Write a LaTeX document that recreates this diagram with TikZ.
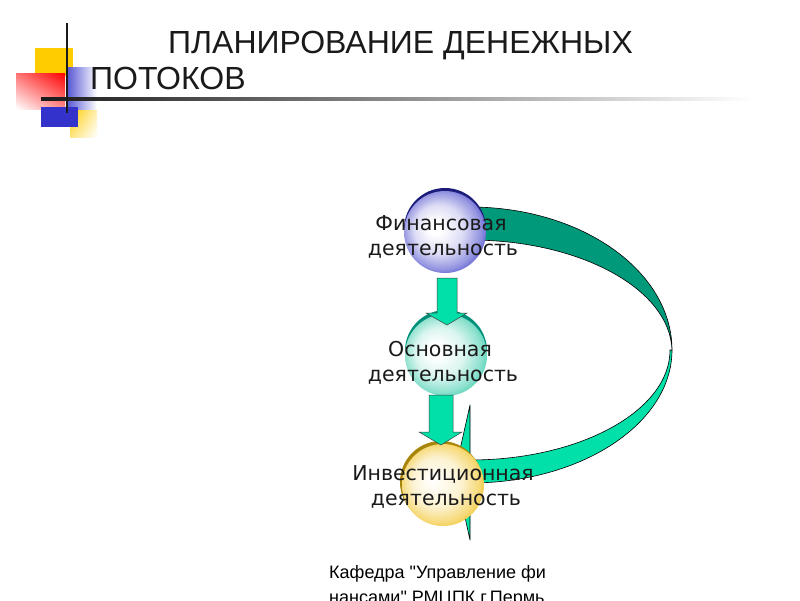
\documentclass[tikz,border=0pt]{standalone}
\usepackage{fontspec}
\usetikzlibrary{shadings}
\setmainfont{DejaVu Sans}
\newfontfamily\titlefont{Liberation Sans}
\definecolor{mint}{HTML}{00E0A8}
\definecolor{ribdark}{HTML}{00997A}
\definecolor{finblue}{HTML}{2E2EC4}
\definecolor{finedge}{HTML}{1C1C7A}
\definecolor{osnteal}{HTML}{20C4A0}
\definecolor{osnedge}{HTML}{00907A}
\definecolor{invyel}{HTML}{F0BC10}
\definecolor{invedge}{HTML}{A8860C}
\definecolor{logogold}{HTML}{FFCC00}
\definecolor{logoblue}{HTML}{3333CC}
\definecolor{ink}{HTML}{1A1A1A}
\pgfdeclareradialshading{finball}{\pgfpoint{-7.3bp}{3.2bp}}{color(0bp)=(white); color(4.5bp)=(white); color(15bp)=(finblue!17!white); color(23.5bp)=(finblue!51!white); color(29bp)=(finblue!85!white); color(32.5bp)=(finblue)}
\pgfdeclareradialshading{osnball}{\pgfpoint{-7.3bp}{3.2bp}}{color(0bp)=(white); color(4.5bp)=(white); color(15bp)=(osnteal!17!white); color(23.5bp)=(osnteal!51!white); color(29bp)=(osnteal!85!white); color(32.5bp)=(osnteal)}
\pgfdeclareradialshading{invball}{\pgfpoint{-7.3bp}{3.2bp}}{color(0bp)=(white); color(4.5bp)=(invyel!5!white); color(15bp)=(invyel!19!white); color(23.5bp)=(invyel!55!white); color(29bp)=(invyel!88!white); color(32.5bp)=(invyel)}
\tikzset{
  ball/.style={circle, minimum size=82pt, inner sep=0pt, draw=none},
  label/.style={anchor=base, inner sep=0pt, text=ink, font=\fontsize{20.5}{24}\selectfont},
  blockarrow/.style={fill=mint, draw=black!75, line width=0.5pt},
  ribbon/.style={draw=black, line width=0.6pt, line join=round},
  titletext/.style={anchor=base west, inner sep=0pt, text=ink, font=\titlefont\fontsize{32}{38}\selectfont},
  foottext/.style={anchor=base west, inner sep=0pt, text=black, font=\titlefont\fontsize{18}{22}\selectfont}
}
\begin{document}
\begin{tikzpicture}[x=1pt,y=-1pt]
\useasboundingbox (0,0) rectangle (800,600);
\clip (0,0) rectangle (800,600);
\fill[white] (0,0) rectangle (800,600);
% logo
\fill[logogold] (35,48) rectangle (73,76);
\shade[upper left=red!55!white, upper right=red, lower left=white, lower right=red!45!white] (16,73) rectangle (65,109);
\shade[left color=logoblue!85!white, right color=white] (66,67) rectangle (97,109);
\shade[upper left=logogold, upper right=logogold!30!white, lower left=logogold!50!white, lower right=white] (70,110) rectangle (97,137);
\fill[logoblue] (41,107) rectangle (78,127);
\shade[left color=ink, middle color=black!60, right color=white] (41,97.6) rectangle (752,100.6);
\fill[ink] (65.8,23) rectangle (68.4,113);
% title
\node[titletext] (t1) at (168,53) {ПЛАНИРОВАНИЕ ДЕНЕЖНЫХ};
\node[titletext] (t2) at (90,89) {ПОТОКОВ};
% ribbon (back face)
\path[fill=ribdark, ribbon] (440,207) -- (470,207) .. controls (581.5,207) and (672,271) .. (672,350)
   .. controls (670,289) and (580,240) .. (470,240) -- (440,240) -- cycle;
% ribbon (front face)
\path[fill=mint, ribbon] (672,350) .. controls (672,423.4) and (581.5,483) .. (470,483) -- (470,460)
   .. controls (580,460) and (670,410.7) .. (670,350) -- cycle;
% arrow head
\path[fill=mint, ribbon] (470,405) -- (455,472) -- (470,540) -- cycle;
% circles
\node[ball, fill=finedge] (finrim) at (445,229) {};
\node[ball, shading=finball] (fin) at (445,232) {};
\node[ball, fill=osnedge] (osnrim) at (446,351) {};
\node[ball, shading=osnball] (osn) at (446,355) {};
\node[ball, fill=invedge] (invrim) at (441,482) {};
\node[ball, shading=invball] (inv) at (443,485) {};
% block arrows
\path[blockarrow] (437,278) -- (457,278) -- (457,313) -- (467,313) -- (447,325) -- (426,313) -- (437,313) -- cycle;
\path[blockarrow] (429,395) -- (453,395) -- (453,432) -- (462,432) -- (441,445) -- (419,432) -- (429,432) -- cycle;
% labels
\node[label] (l1a) at (441,230) {Финансовая};
\node[label] (l1b) at (443,255) {деятельность};
\node[label] (l2a) at (440,356) {Основная};
\node[label] (l2b) at (443,381) {деятельность};
\node[label] (l3a) at (443,480) {Инвестиционная};
\node[label] (l3b) at (446,505) {деятельность};
% footer
\node[foottext] (f1) at (329,578) {Кафедра "Управление фи};
\node[foottext] (f2) at (329,603) {нансами" РМЦПК г.Пермь};
\end{tikzpicture}
\end{document}
